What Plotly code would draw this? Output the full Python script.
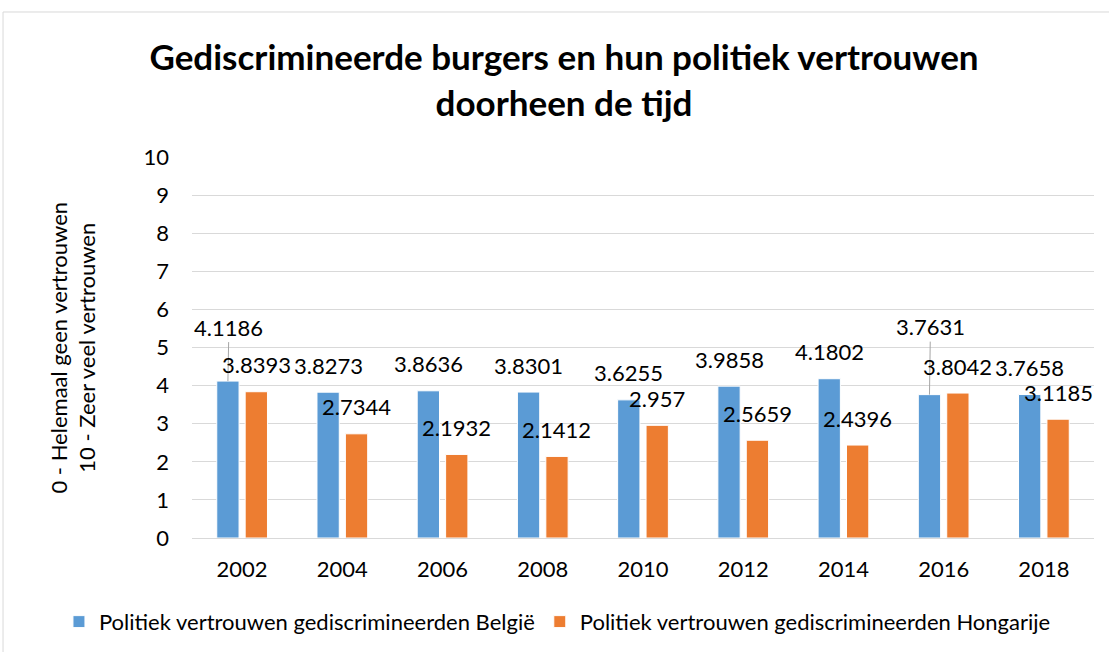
import plotly.graph_objects as go

years = ["2002", "2004", "2006", "2008", "2010", "2012", "2014", "2016", "2018"]
belgie = [4.1186, 3.8273, 3.8636, 3.8301, 3.6255, 3.9858, 4.1802, 3.7631, 3.7658]
hongarije = [3.8393, 2.7344, 2.1932, 2.1412, 2.957, 2.5659, 2.4396, 3.8042, 3.1185]
name_be = "Politiek vertrouwen gediscrimineerden België"
name_hu = "Politiek vertrouwen gediscrimineerden Hongarije"
title = "Gediscrimineerde burgers en hun politiek vertrouwen<br>doorheen de tijd"
ytitle = "0 - Helemaal geen vertrouwen<br>10 - Zeer veel vertrouwen"

BLUE = "#5B9BD5"
ORANGE = "#ED7D31"
FONT = "Lato"
FS = 22

# label lift (pixels above bar top) per label; leader-lined labels lifted more
lift_be = [54, 27, 27, 27, 27, 27, 27, 68, 27]
lift_hu = [27] * 9

fig = go.Figure()
fig.add_trace(go.Bar(x=years, y=belgie, name=name_be,
                     marker=dict(color=BLUE, line=dict(color="white", width=1))))
fig.add_trace(go.Bar(x=years, y=hongarije, name=name_hu,
                     marker=dict(color=ORANGE, line=dict(color="white", width=1))))

ann = []
for i, yr in enumerate(years):
    for vals, lifts, dx in ((belgie, lift_be, -14.2), (hongarije, lift_hu, 14.2)):
        v = vals[i]
        lift = lifts[i]
        if lift > 40:
            ann.append(dict(x=i, y=v, xref="x", yref="y", xshift=dx, text=str(v),
                            showarrow=True, arrowhead=0, arrowwidth=1, arrowcolor="#A6A6A6",
                            ax=1, ay=-lift, standoff=0,
                            font=dict(family=FONT, size=FS, color="#000")))
        else:
            ann.append(dict(x=i, y=v, xref="x", yref="y", xshift=dx, yshift=lift, text=str(v),
                            showarrow=False, yanchor="middle", xanchor="center",
                            font=dict(family=FONT, size=FS, color="#000")))

ann.append(dict(x=-0.133, y=0.5, xref="paper", yref="paper", text=ytitle, textangle=-90,
                showarrow=False, xanchor="center", yanchor="middle",
                font=dict(family=FONT, size=FS, color="#000")))

fig.update_layout(
    width=1109, height=652,
    margin=dict(l=192, r=15, t=157, b=114, autoexpand=False),
    paper_bgcolor="white", plot_bgcolor="white",
    barmode="group", bargap=0.433, bargroupgap=0.215,
    title=dict(text=title, x=0.5086, xanchor="center", y=0.8926, yanchor="middle",
               font=dict(family=FONT, size=35, color="#000", weight="bold")),
    font=dict(family=FONT, size=FS, color="#000"),
    legend=dict(orientation="h", x=-0.1475, xanchor="left", y=-0.22, yanchor="middle",
                font=dict(family=FONT, size=FS, color="#000"), itemwidth=30,
                bgcolor="rgba(0,0,0,0)", tracegroupgap=0),
    annotations=ann,
    shapes=[dict(type="rect", xref="paper", yref="paper", x0=-0.2095, x1=1.3, y0=-1.0, y1=1.3806,
                 line=dict(color="#D9D9D9", width=1), layer="below")],
)
fig.update_xaxes(type="category", range=[-0.5, 8.5], showgrid=False, showline=True,
                 linecolor="#D9D9D9", linewidth=1,
                 ticks="", ticklabelstandoff=12, tickfont=dict(family=FONT, size=FS, color="#000"))
fig.update_yaxes(range=[0, 10], dtick=1, showgrid=True, gridcolor="#D9D9D9", gridwidth=1,
                 zeroline=False, showline=False, ticks="", ticklabelstandoff=22,
                 tickfont=dict(family=FONT, size=FS, color="#000"))

fig.write_html("out.html", config={"displayModeBar": False},
               post_script="document.body.style.margin='0px';")
